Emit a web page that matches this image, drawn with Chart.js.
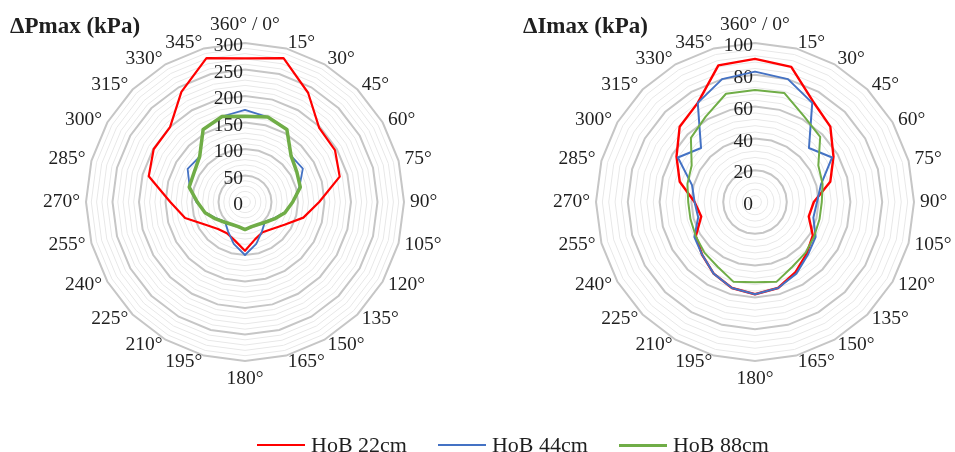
<!DOCTYPE html>
<html>
<head>
<meta charset="utf-8">
<script src="https://cdn.jsdelivr.net/npm/chart.js@4.4.1/dist/chart.umd.min.js"></script>
<style>
  html, body { margin: 0; padding: 0; background: #fff; }
  body { width: 955px; height: 452px; position: relative; overflow: hidden; font-family: "Liberation Serif", serif; color: #1f1f1f; }
  canvas { position: absolute; top: 0; }
  #pChart { left: 0; }
  #iChart { left: 500px; }
  .title { position: absolute; font-weight: bold; font-size: 23px; line-height: 23px; }
  #legend { position: absolute; left: 257px; top: 434px; display: flex; align-items: center; gap: 31px; font-size: 22px; line-height: 22px; }
  .item { display: flex; align-items: center; }
  .swatch { width: 48px; margin-right: 6px; }
</style>
</head>
<body>
<canvas id="pChart" width="500" height="452"></canvas>
<canvas id="iChart" width="455" height="452"></canvas>
<div class="title" style="left:10px; top:14px;">ΔPmax (kPa)</div>
<div class="title" style="left:523px; top:14px;">ΔImax (kPa)</div>
<div id="legend"></div>
<script>
// directions, clockwise from the top
const angleLabels = ['360° / 0°', '15°', '30°', '45°', '60°', '75°', '90°', '105°', '120°', '135°', '150°', '165°',
  '180°', '195°', '210°', '225°', '240°', '255°', '270°', '285°', '300°', '315°', '330°', '345°'];

const seriesNames = ['HoB 22cm', 'HoB 44cm', 'HoB 88cm'];
const seriesColors = ['#ff0000', '#4472c4', '#70ad47'];

// ΔPmax (kPa)
const pMax22 = [271, 281, 238, 198, 196, 185, 140, 114, 86, 72, 66, 73, 92, 75, 68, 72, 86, 117, 141, 188, 199, 200, 240, 281];
const pMax44 = [174, 166, 158, 123, 126, 106, 90, 77, 62, 53, 64, 82, 100, 82, 64, 53, 62, 77, 92, 108, 125, 121, 158, 167];
const pMax88 = [162, 166, 158, 123, 113, 108, 90, 78, 64, 54, 49, 48, 52, 48, 49, 54, 64, 78, 90, 109, 111, 121, 158, 167];

// ΔImax (kPa)
const iMax22 = [90, 88, 73, 67, 57, 49, 37, 35, 42, 46, 51, 56, 58, 56, 52, 47, 43, 35, 38, 49, 57, 67, 72, 89];
const iMax44 = [82, 80, 72, 48, 56, 43, 39, 38, 44, 47, 52, 56, 58, 56, 52, 47, 44, 37, 38, 41, 56, 48, 72, 80];
const iMax88 = [70.5, 71, 62, 58, 46, 44, 42, 42, 43, 45, 47, 52, 50.5, 52, 47, 45, 43, 42, 42, 44, 46, 57, 62, 70.5];

// value axis labels
const pTicks = [0, 50, 100, 150, 200, 250, 300];
const iTicks = [0, 20, 40, 60, 80, 100];

const textColor = '#1f1f1f';

// draws value labels next to the vertical axis and direction labels round the rim
const axisText = {
  id: 'axisText',
  beforeDatasetsDraw(chart, args, opts) {
    const r = chart.scales.r;
    const ctx = chart.ctx;
    ctx.save();
    ctx.fillStyle = textColor;
    ctx.font = '19.5px "Liberation Serif"';
    ctx.textBaseline = 'middle';
    ctx.textAlign = 'right';
    opts.ticks.forEach(v => {
      const d = r.getDistanceFromCenterForValue(v);
      ctx.fillText(String(v), r.xCenter - 2, r.yCenter - d + 3);
    });
    chart.data.labels.forEach((lab, i) => {
      const a = r.getIndexAngle(i);
      const s = Math.sin(a), c = Math.cos(a);
      if (Math.abs(s) < 0.01) {
        ctx.textAlign = 'center';
        ctx.fillText(lab, r.xCenter, r.yCenter - c * (r.drawingArea + 18));
      } else {
        const p = r.getPointPosition(i, r.drawingArea + 6);
        ctx.textAlign = s > 0 ? 'left' : 'right';
        ctx.fillText(lab, p.x, p.y);
      }
    });
    ctx.restore();
  }
};

const makeRadar = (id, series, ticks, step, widths, pad) => {
  const major = ticks[1];
  return new Chart(document.getElementById(id), {
    type: 'radar',
    data: {
      labels: angleLabels,
      datasets: series.map((d, k) => ({
        label: seriesNames[k],
        data: d,
        borderColor: seriesColors[k],
        borderWidth: widths[k],
        borderJoinStyle: 'round',
        fill: false,
        pointRadius: 0,
        order: 2 - k
      }))
    },
    options: {
      responsive: false,
      animation: false,
      layout: { padding: pad },
      plugins: {
        legend: { display: false },
        tooltip: { enabled: false },
        axisText: { ticks: ticks }
      },
      scales: {
        r: {
          min: 0,
          max: ticks[ticks.length - 1],
          ticks: { display: false, stepSize: step },
          pointLabels: { display: false },
          angleLines: { display: false },
          grid: {
            color: c => (c.tick && c.tick.value % major === 0) ? '#c6c6c6' : '#e8e8e8',
            lineWidth: c => (c.tick && c.tick.value % major === 0) ? 2 : 1
          }
        }
      }
    },
    plugins: [axisText]
  });
};

makeRadar('pChart', [pMax22, pMax44, pMax88], pTicks, 10, [2.2, 1.8, 3.5], { left: 86, right: 96, top: 43, bottom: 91 });
makeRadar('iChart', [iMax22, iMax44, iMax88], iTicks, 4, [2.4, 2, 2], { left: 96, right: 41, top: 43, bottom: 91 });

// shared legend under both charts
const swatchHeights = [2.5, 2.2, 3];
const legend = document.getElementById('legend');
seriesNames.forEach((name, k) => {
  const item = document.createElement('div');
  item.className = 'item';
  const sw = document.createElement('span');
  sw.className = 'swatch';
  sw.style.height = swatchHeights[k] + 'px';
  sw.style.background = seriesColors[k];
  const txt = document.createElement('span');
  txt.textContent = name;
  item.appendChild(sw);
  item.appendChild(txt);
  legend.appendChild(item);
});
</script>
</body>
</html>
